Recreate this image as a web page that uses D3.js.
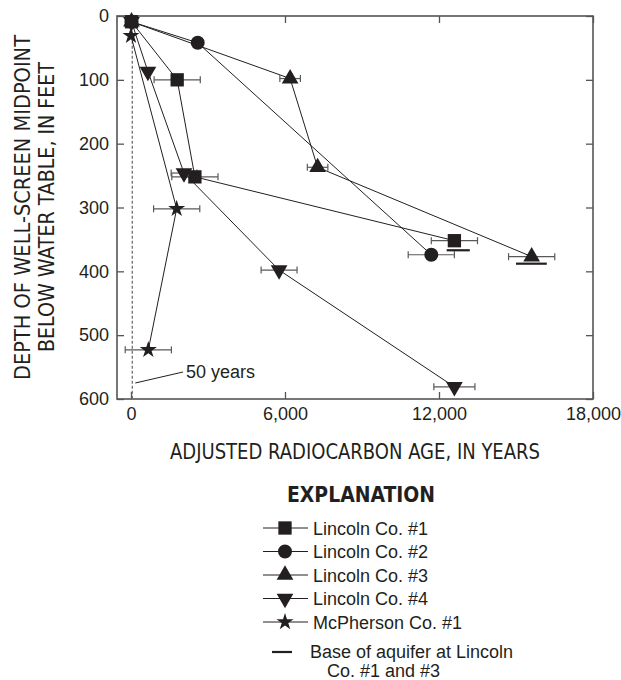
<!DOCTYPE html>
<html>
<head>
<meta charset="utf-8">
<script src="https://cdn.jsdelivr.net/npm/d3@7"></script>
<style>
	body { margin: 0; background: #fff; }
	svg { display: block; font-family: 'Liberation Sans', Arial, sans-serif; }
	.axis text { font-size: 18px; fill: #231f20; }
	.axis line { stroke: #555; stroke-width: 1.3; }
	.axis path { display: none; }
	.title { font-family: 'Liberation Sans Narrow', 'DejaVu Sans Condensed', sans-serif; font-size: 21px; fill: #231f20; }
	.legend-text { font-size: 18px; fill: #231f20; }
</style>
</head>
<body>
<script>
// values: age in years, depth in feet, +/- error in years
const wells = ['Lincoln Co. #1', 'Lincoln Co. #2', 'Lincoln Co. #3', 'Lincoln Co. #4', 'McPherson Co. #1'];
const lincoln1 = [
	{age: 20, depth: 9, err: 0},
	{age: 1800, depth: 100, err: 900},
	{age: 2490, depth: 252, err: 900},
	{age: 12600, depth: 352, err: 900}
];
const lincoln2 = [
	{age: 20, depth: 9, err: 0},
	{age: 2600, depth: 42, err: 0},
	{age: 11700, depth: 374, err: 900}
];
const lincoln3 = [
	{age: 20, depth: 9, err: 0},
	{age: 6200, depth: 98, err: 400},
	{age: 7270, depth: 237, err: 400},
	{age: 15610, depth: 377, err: 900}
];
const lincoln4 = [
	{age: 20, depth: 9, err: 0},
	{age: 660, depth: 87, err: 0},
	{age: 2065, depth: 246, err: 500},
	{age: 5770, depth: 398, err: 700},
	{age: 12600, depth: 581, err: 800}
];
const mcpherson1 = [
	{age: 0, depth: 31, err: 0},
	{age: 1780, depth: 302, err: 900},
	{age: 675, depth: 523, err: 900}
];
// base of aquifer marks (age span, depth)
const baseOfAquifer = [
	{well: 'Lincoln Co. #1', from: 12300, to: 13200, depth: 367},
	{well: 'Lincoln Co. #3', from: 15000, to: 16200, depth: 388}
];
const xTicks = [0, 6000, 12000, 18000];
const yTicks = [0, 100, 200, 300, 400, 500, 600];
const fiftyYears = 50;

const width = 621;
const height = 680;
const svg = d3.select('body')
	.append('svg')
	.attr('width', width)
	.attr('height', height);

const x = d3.scaleLinear().domain([-545, 18000]).range([117, 593]);
const y = d3.scaleLinear().domain([0, 600]).range([16, 399]);

const series = [
	{name: wells[0], points: lincoln1, symbol: d3.symbolSquare, size: 177, rotate: 0},
	{name: wells[1], points: lincoln2, symbol: d3.symbolCircle, size: 154, rotate: 0},
	{name: wells[2], points: lincoln3, symbol: d3.symbolTriangle, size: 121, rotate: 0},
	{name: wells[3], points: lincoln4, symbol: d3.symbolTriangle, size: 121, rotate: 180},
	{name: wells[4], points: mcpherson1, symbol: d3.symbolStar, size: 90, rotate: 0}
];

// axes, ticks pointing inward
svg.append('g')
	.attr('class', 'axis')
	.attr('transform', 'translate(0,399)')
	.call(d3.axisBottom(x).tickValues(xTicks).tickSize(-7).tickSizeOuter(0).tickPadding(8).tickFormat(d3.format(',')));
svg.append('g')
	.attr('class', 'axis')
	.attr('transform', 'translate(0,16)')
	.call(d3.axisTop(x).tickValues(xTicks).tickSize(-7).tickSizeOuter(0).tickFormat(''));
svg.append('g')
	.attr('class', 'axis')
	.attr('transform', 'translate(117,0)')
	.call(d3.axisLeft(y).tickValues(yTicks).tickSize(-7).tickSizeOuter(0).tickPadding(8));
svg.append('g')
	.attr('class', 'axis')
	.attr('transform', 'translate(593,0)')
	.call(d3.axisRight(y).tickValues(yTicks).tickSize(-7).tickSizeOuter(0).tickFormat(''));

svg.append('rect')
	.attr('x', x.range()[0])
	.attr('y', y.range()[0])
	.attr('width', x.range()[1] - x.range()[0])
	.attr('height', y.range()[1] - y.range()[0])
	.attr('fill', 'none')
	.attr('stroke', '#555')
	.attr('stroke-width', 1.6);

// 50 year reference line
svg.append('line')
	.attr('x1', x(fiftyYears))
	.attr('x2', x(fiftyYears))
	.attr('y1', y(mcpherson1[0].depth))
	.attr('y2', y(600))
	.attr('stroke', '#666')
	.attr('stroke-width', 1.2)
	.attr('stroke-dasharray', '3,2');
svg.append('line')
	.attr('x1', x(fiftyYears) + 3)
	.attr('y1', 383)
	.attr('x2', 183)
	.attr('y2', 372)
	.attr('stroke', '#231f20')
	.attr('stroke-width', 1);
svg.append('text')
	.attr('x', 186)
	.attr('y', 378)
	.attr('font-size', '18px')
	.attr('fill', '#231f20')
	.text('50 years');

// connecting lines
const line = d3.line()
	.x(function(d) { return x(d.age); })
	.y(function(d) { return y(d.depth); });
svg.selectAll('.well-line')
	.data(series)
	.enter()
	.append('path')
	.attr('class', 'well-line')
	.attr('d', function(d) { return line(d.points); })
	.attr('fill', 'none')
	.attr('stroke', '#231f20')
	.attr('stroke-width', 1);

// error bars
const errs = series.flatMap(function(s) { return s.points.filter(function(p) { return p.err > 0; }); });
const bars = svg.selectAll('.err')
	.data(errs)
	.enter()
	.append('g')
	.attr('class', 'err')
	.attr('stroke', '#58595b')
	.attr('stroke-width', 1.2);
bars.append('line')
	.attr('x1', function(d) { return x(d.age - d.err); })
	.attr('x2', function(d) { return x(d.age + d.err); })
	.attr('y1', function(d) { return y(d.depth); })
	.attr('y2', function(d) { return y(d.depth); });
[-1, 1].forEach(function(side) {
	bars.append('line')
		.attr('x1', function(d) { return x(d.age + side * d.err); })
		.attr('x2', function(d) { return x(d.age + side * d.err); })
		.attr('y1', function(d) { return y(d.depth) - 3.5; })
		.attr('y2', function(d) { return y(d.depth) + 3.5; });
});

// base of aquifer
svg.selectAll('.base')
	.data(baseOfAquifer)
	.enter()
	.append('line')
	.attr('class', 'base')
	.attr('x1', function(d) { return x(d.from); })
	.attr('x2', function(d) { return x(d.to); })
	.attr('y1', function(d) { return y(d.depth); })
	.attr('y2', function(d) { return y(d.depth); })
	.attr('stroke', '#231f20')
	.attr('stroke-width', 2.2);

// markers
series.forEach(function(s) {
	svg.selectAll(null)
		.data(s.points)
		.enter()
		.append('path')
		.attr('d', d3.symbol().type(s.symbol).size(s.size))
		.attr('transform', function(d) { return 'translate(' + x(d.age) + ',' + y(d.depth) + ') rotate(' + s.rotate + ')'; })
		.attr('fill', '#231f20');
});

// axis titles
svg.append('text')
	.attr('class', 'title')
	.attr('x', 170)
	.attr('y', 459)
	.attr('textLength', 370)
	.attr('lengthAdjust', 'spacingAndGlyphs')
	.text('ADJUSTED RADIOCARBON AGE, IN YEARS');
svg.append('text')
	.attr('class', 'title')
	.attr('font-size', '22px')
	.attr('transform', 'translate(30,380) rotate(-90)')
	.attr('textLength', 345)
	.attr('lengthAdjust', 'spacingAndGlyphs')
	.text('DEPTH OF WELL-SCREEN MIDPOINT');
svg.append('text')
	.attr('class', 'title')
	.attr('font-size', '22px')
	.attr('transform', 'translate(54,352) rotate(-90)')
	.attr('textLength', 290)
	.attr('lengthAdjust', 'spacingAndGlyphs')
	.text('BELOW WATER TABLE, IN FEET');

// legend
svg.append('text')
	.attr('class', 'title')
	.attr('x', 287)
	.attr('y', 502)
	.attr('font-weight', 'bold')
	.attr('textLength', 148)
	.attr('lengthAdjust', 'spacingAndGlyphs')
	.text('EXPLANATION');

const legend = svg.selectAll('.legend')
	.data(series)
	.enter()
	.append('g')
	.attr('class', 'legend')
	.attr('transform', function(d, i) { return 'translate(285,' + (528 + i * 23.5) + ')'; });
legend.append('line')
	.attr('x1', -22)
	.attr('x2', 23)
	.attr('stroke', '#231f20')
	.attr('stroke-width', 1);
legend.append('path')
	.attr('d', function(d) { return d3.symbol().type(d.symbol).size(d.size)(); })
	.attr('transform', function(d) { return 'rotate(' + d.rotate + ')'; })
	.attr('fill', '#231f20');
legend.append('text')
	.attr('class', 'legend-text')
	.attr('x', 28)
	.attr('y', 6.5)
	.text(function(d) { return d.name; });

svg.append('line')
	.attr('x1', 272)
	.attr('x2', 292)
	.attr('y1', 652)
	.attr('y2', 652)
	.attr('stroke', '#231f20')
	.attr('stroke-width', 2.2);
svg.append('text')
	.attr('class', 'legend-text')
	.attr('x', 310)
	.attr('y', 658)
	.text('Base of aquifer at Lincoln');
svg.append('text')
	.attr('class', 'legend-text')
	.attr('x', 327)
	.attr('y', 677)
	.text('Co. #1 and #3');
</script>
</body>
</html>
